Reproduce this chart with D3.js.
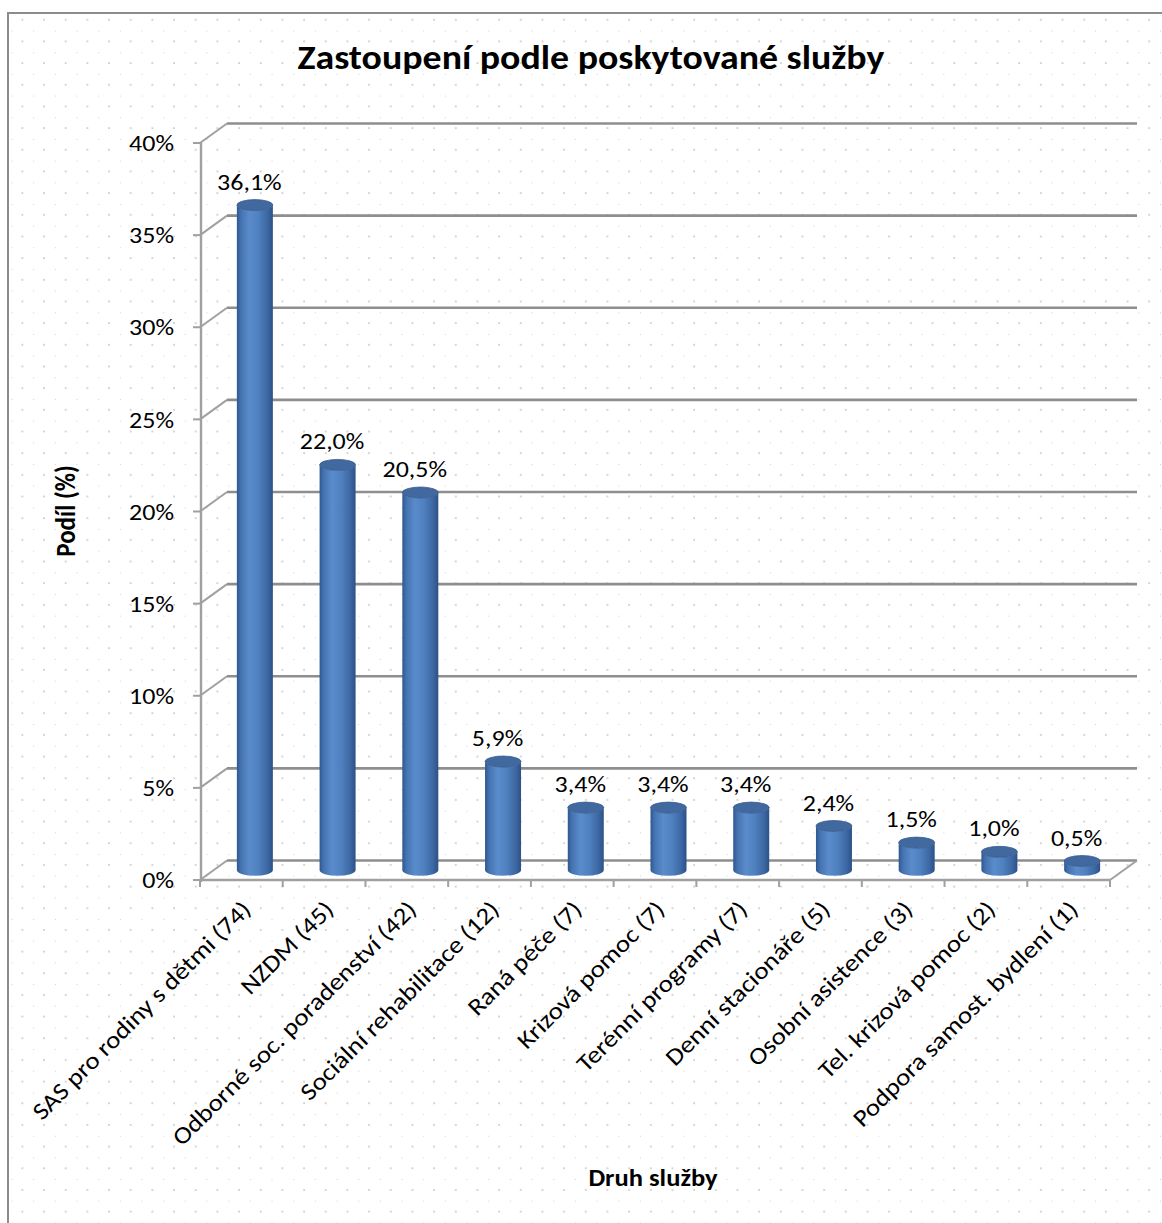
<!DOCTYPE html>
<html><head><meta charset="utf-8">
<script src="https://cdn.jsdelivr.net/npm/d3@7"></script>
<style>
html,body{margin:0;padding:0;background:#fff;}
svg text{font-family:Carlito,Calibri,"Open Sans",sans-serif;fill:#000;}
</style></head>
<body>
<svg id="chart" width="1162" height="1223"></svg>
<script>
const categories = ["SAS pro rodiny s dětmi (74)","NZDM (45)","Odborné soc. poradenství (42)","Sociální rehabilitace (12)","Raná péče (7)","Krizová pomoc (7)","Terénní programy (7)","Denní stacionáře (5)","Osobní asistence (3)","Tel. krizová pomoc (2)","Podpora samost. bydlení (1)"];
const values = [36.1,22.0,20.5,5.9,3.4,3.4,3.4,2.4,1.5,1.0,0.5];
const yTicks = [0,5,10,15,20,25,30,35,40];
const yTickLabels = ["0%","5%","10%","15%","20%","25%","30%","35%","40%"];
const titleText = "Zastoupení podle poskytované služby";
const yTitle = "Podíl (%)";
const xTitle = "Druh služby";

const svg = d3.select("#chart");
const W = 1162, H = 1223;
const SX = 1.13;                    // horizontal stretch of the original picture
const DX = 27, DY = -19.5;          // depth offset of the back wall
const x = d3.scaleBand().domain(categories).range([200, 1110]).padding(0);
const y = d3.scaleLinear().domain([0, 40]).range([880, 143]);
const fmt = v => d3.format(".1f")(v).replace(".", ",") + "%";

function stretchedText(px, py, size, str, anchor, bold, pre) {
  return svg.append("text")
    .attr("transform", `translate(${px},${py})` + (pre || "") + ` scale(${SX},1)`)
    .attr("text-anchor", anchor).attr("font-size", size)
    .attr("font-weight", bold ? "bold" : null).text(str);
}

const defs = svg.append("defs");
const pat = defs.append("pattern").attr("id","dots").attr("patternUnits","userSpaceOnUse")
  .attr("x",11.5).attr("y",8.9).attr("width",21.67).attr("height",21.67);
pat.append("rect").attr("x",-0.8).attr("y",-0.8).attr("width",1.7).attr("height",1.7).attr("fill","#c8c8c8");
pat.append("rect").attr("x",10.03).attr("y",10.03).attr("width",1.7).attr("height",1.7).attr("fill","#c8c8c8");

const grad = defs.append("linearGradient").attr("id","cyl").attr("x1","0").attr("x2","1").attr("y1","0").attr("y2","0");
[[0,"#2f5790"],[0.12,"#4674b2"],[0.35,"#5a8bcb"],[0.6,"#4f80bf"],[0.85,"#3d68a3"],[1,"#2c5187"]]
  .forEach(([o,c]) => grad.append("stop").attr("offset",o).attr("stop-color",c));

// background
svg.append("rect").attr("x",0).attr("y",0).attr("width",W).attr("height",H).attr("fill","#fff");
svg.append("rect").attr("x",8).attr("y",13).attr("width",W).attr("height",H).attr("fill","url(#dots)")
  .attr("stroke","#8c8c8c").attr("stroke-width",2);

// title
stretchedText(591, 69, 33.5, titleText, "middle", true);

const grid = svg.append("g");
yTicks.forEach(t => {
  const yf = y(t);
  grid.append("line").attr("x1",200).attr("y1",yf).attr("x2",200+DX).attr("y2",yf+DY)
    .attr("stroke","#a0a0a0").attr("stroke-width",2);
  grid.append("line").attr("x1",200+DX).attr("y1",yf+DY).attr("x2",1110+DX).attr("y2",yf+DY)
    .attr("stroke","#8e8e8e").attr("stroke-width",2.6);
});
grid.append("line").attr("x1",1110).attr("y1",y(0)).attr("x2",1110+DX).attr("y2",y(0)+DY)
  .attr("stroke","#a0a0a0").attr("stroke-width",2);
grid.append("line").attr("x1",200).attr("y1",y(0)).attr("x2",1110).attr("y2",y(0))
  .attr("stroke","#a0a0a0").attr("stroke-width",2.4);
const xEdges = categories.map(c => x(c)).concat([x.range()[1]]);
xEdges.forEach(e => grid.append("line").attr("x1",e).attr("x2",e).attr("y1",y(0)).attr("y2",y(0)+7)
  .attr("stroke","#a0a0a0").attr("stroke-width",2));
grid.append("line").attr("x1",201).attr("x2",201).attr("y1",y(40)).attr("y2",y(0)+2)
  .attr("stroke","#a0a0a0").attr("stroke-width",2.4);
yTicks.forEach((t,i) => {
  grid.append("line").attr("x1",193).attr("x2",201).attr("y1",y(t)).attr("y2",y(t))
    .attr("stroke","#a0a0a0").attr("stroke-width",2);
  stretchedText(174, y(t) + 8.2, 23, yTickLabels[i], "end", false);
});

// cylinders at half depth
const bw = 36, r = bw/2, ry = 5.5;
const ox = DX/2, oy = DY/2;
const bars = svg.append("g");
categories.forEach((c,i) => {
  const cx = x(c) + x.bandwidth()/2 + ox;
  const yb = y(0) + oy;
  const yt = y(values[i]) + oy;
  const body = `M${cx-r},${yt} L${cx-r},${yb} A${r},${ry} 0 0 0 ${cx+r},${yb} L${cx+r},${yt} A${r},${ry} 0 0 1 ${cx-r},${yt} Z`;
  bars.append("path").attr("d",body).attr("fill","url(#cyl)");
  bars.append("ellipse").attr("cx",cx).attr("cy",yt).attr("rx",r).attr("ry",ry)
    .attr("fill","#41699f").attr("stroke","#355a8d").attr("stroke-width",0.8);
  stretchedText(cx-5.5, yt-15.5, 23, fmt(values[i]), "middle", false);
});

// category labels
categories.forEach(c => {
  const px = x(c) + x.bandwidth()/2 + 11;
  stretchedText(px, y(0)+31, 24, c, "end", false, " rotate(-45)");
});

// axis titles
svg.append("text").attr("transform",`translate(75,511) scale(${SX},1) rotate(-90)`).attr("text-anchor","middle")
  .attr("font-size",25).attr("font-weight","bold").text(yTitle);
stretchedText(653, 1186, 23.5, xTitle, "middle", true);
</script>
</body></html>
